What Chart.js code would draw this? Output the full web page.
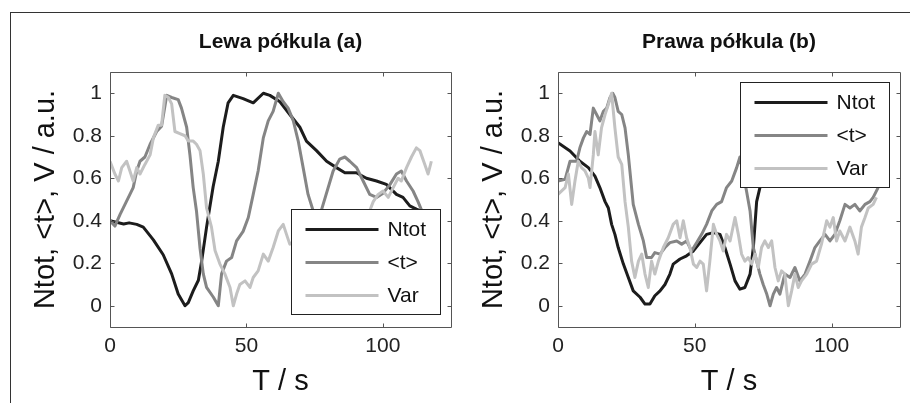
<!DOCTYPE html>
<html><head><meta charset="utf-8">
<script src="https://cdn.jsdelivr.net/npm/chart.js@4.4.1/dist/chart.umd.min.js"></script>
<style>
html,body{margin:0;padding:0;background:#fff;}
body{width:910px;height:403px;position:relative;overflow:hidden;}
#frameTop{position:absolute;left:10px;top:12px;width:900px;height:0;border-top:1px solid #333;}
#frameLeft{position:absolute;left:10px;top:12px;width:0;height:391px;border-left:1px solid #333;}
#c1{position:absolute;left:0;top:0;}
#c2{position:absolute;left:448px;top:0;}
</style></head>
<body>
<div id="frameTop"></div><div id="frameLeft"></div>
<canvas id="c1" width="455" height="403"></canvas>
<canvas id="c2" width="462" height="403"></canvas>
<script>
// ---- labels / ticks ----
const seriesNames = ['Ntot', '<t>', 'Var'];
const panelTitles = ['Lewa półkula (a)', 'Prawa półkula (b)'];
const xTickValues = [0, 50, 100];
const yTickValues = [0, 0.2, 0.4, 0.6, 0.8, 1];
const yAxisTitle = 'Ntot, <t>, V / a.u.';
const xAxisTitle = 'T / s';

// ---- left hemisphere (a) ----
const leftNtotT = [0,5,7,9.8,12.2,15.9,19.5,22.6,25.0,27.5,28.7,30.5,32.4,33.6,35.4,37.8,39.7,41.5,43.3,45.2,48.8,52.5,56.2,58.6,62.3,65.9,69.6,72.0,75.7,79.4,83.0,86.1,90.3,94.0,97.7,101.3,105.0,107.4,109.9,112.3,115,118];
const leftNtotV = [0.40,0.385,0.39,0.383,0.37,0.31,0.24,0.15,0.055,0.0,0.015,0.07,0.12,0.21,0.37,0.56,0.68,0.84,0.955,0.99,0.975,0.955,1.0,0.99,0.96,0.90,0.84,0.775,0.73,0.68,0.65,0.626,0.626,0.60,0.587,0.571,0.524,0.51,0.47,0.455,0.44,0.42];

const leftTauT = [0,1.8,3.7,5.5,7.3,8.5,9.8,11.0,12.8,14.7,17.1,18.9,20.8,22.6,25.0,26.2,28.1,29.3,30.5,31.7,33.0,34.2,35.4,37.9,39.7,40.9,42.7,44.6,46.4,48.8,50.7,52.5,54.3,56.2,58.0,59.8,61.7,63.5,65.3,67.2,69.0,70.8,72.6,74.5,75.5,76.5,77.5,81.8,84.2,86.1,87.9,90.4,92.8,95.2,97.7,100.1,102.6,105.0,106.8,108.7,111.1,112.9,114.2,118];
const leftTauV = [0.40,0.375,0.43,0.477,0.524,0.556,0.634,0.68,0.70,0.76,0.82,0.845,0.99,0.98,0.97,0.93,0.84,0.71,0.556,0.446,0.27,0.15,0.086,0.04,0.0,0.15,0.21,0.227,0.305,0.35,0.415,0.524,0.634,0.79,0.87,0.915,1.0,0.96,0.93,0.87,0.775,0.65,0.524,0.446,0.25,0.30,0.45,0.634,0.69,0.70,0.68,0.65,0.587,0.524,0.51,0.53,0.57,0.62,0.634,0.587,0.54,0.49,0.45,0.38];

const leftVarT = [0,1.8,3.1,4.3,6.1,7.3,8.5,9.8,11.0,12.8,14.7,15.9,17.7,18.9,20.1,21.4,22.6,23.8,25.6,27.5,28.7,30.5,31.7,33.0,34.2,35.4,37.2,38.5,40.3,42.1,44.0,45.2,46.4,47.6,49.5,51.3,52.5,54.3,56.2,58.0,59.8,61.7,63.5,64.7,65.9,70,75,80,85,90,95,96.5,98.3,100.1,102.0,103.8,105.6,106.8,108.7,110.5,112.3,113.6,115.4,116.6,117.8];
const leftVarV = [0.68,0.62,0.587,0.65,0.68,0.634,0.587,0.65,0.62,0.665,0.71,0.79,0.85,0.85,0.99,0.98,0.95,0.82,0.81,0.80,0.775,0.775,0.76,0.73,0.62,0.46,0.37,0.26,0.196,0.15,0.086,0.0,0.055,0.10,0.117,0.086,0.133,0.164,0.243,0.21,0.274,0.352,0.383,0.336,0.29,0.32,0.36,0.40,0.37,0.42,0.44,0.49,0.524,0.54,0.51,0.556,0.60,0.587,0.65,0.70,0.743,0.73,0.665,0.62,0.68];

// ---- right hemisphere (b) ----
const rightNtotT = [0,4.4,8.0,11.1,13.5,15.3,17.2,18.4,19.6,20.8,22.0,23.9,25.7,27.5,30.0,31.8,33.6,35.4,37.3,39.1,40.9,42.1,44.6,47.0,49.5,51.9,54.3,56.8,59.2,61.0,62.9,64.7,66.5,68.3,70.2,71.4,72.6,73.8,76,80,85,90,95,100,105,110,115,118];
const rightNtotV = [0.767,0.728,0.68,0.65,0.61,0.556,0.49,0.46,0.383,0.336,0.274,0.196,0.133,0.07,0.04,0.008,0.008,0.047,0.07,0.10,0.149,0.196,0.22,0.235,0.258,0.297,0.336,0.344,0.336,0.274,0.196,0.117,0.078,0.086,0.149,0.274,0.49,0.556,0.65,0.72,0.78,0.82,0.85,0.88,0.90,0.92,0.93,0.94];

const rightTauT = [0,2.6,4.4,6.8,8.0,9.3,10.5,11.7,12.9,14.1,15.3,16.6,17.8,19.0,20.0,20.8,22.0,23.3,24.5,25.7,27.5,29.4,31.2,32.4,34.2,35.4,37.3,39.1,40.9,43.4,45.2,47.0,48.8,50.7,52.5,54.3,56.2,58.0,59.8,61.6,63.5,65.3,66.5,67.7,68.9,70.2,71.4,72.6,73.8,75.0,76.3,77.5,78.7,79.9,81.1,82.9,84.8,86.6,88.4,90.3,92.1,93.9,95.7,97.6,99.4,101.2,103.0,104.9,106.7,108.5,110.3,112.2,114.0,115.2,117.0];
const rightTauV = [0.587,0.595,0.68,0.68,0.743,0.79,0.82,0.806,0.93,0.90,0.87,0.915,0.93,0.98,1.0,0.98,0.915,0.90,0.837,0.71,0.477,0.383,0.305,0.227,0.227,0.25,0.243,0.274,0.297,0.305,0.29,0.305,0.258,0.297,0.336,0.383,0.446,0.477,0.49,0.556,0.587,0.65,0.70,0.62,0.54,0.446,0.274,0.21,0.149,0.10,0.055,0.0,0.055,0.086,0.055,0.149,0.133,0.18,0.117,0.149,0.21,0.274,0.305,0.336,0.305,0.336,0.40,0.477,0.46,0.477,0.446,0.477,0.49,0.51,0.556];

const rightVarT = [0,2.6,3.8,5.0,6.2,7.4,8.6,9.9,11.1,11.7,12.9,13.5,14.7,15.9,17.2,18.4,19.6,20.8,22.0,23.3,24.5,25.7,26.9,28.1,29.4,30.6,31.8,33.0,34.2,35.4,36.7,38.5,40.3,42.1,43.4,44.6,45.8,47.0,48.2,49.5,50.7,51.9,53.1,54.3,55.5,56.8,58.0,59.2,60.4,61.6,62.9,64.7,65.9,67.1,68.3,69.5,70.8,72.0,73.2,74.4,75.6,76.9,78.1,79.3,80.5,81.7,82.9,84.2,85.4,86.6,87.8,89.0,90.9,92.7,94.5,96.3,98.2,99.4,100.6,101.8,103.0,104.9,106.7,108.5,109.7,110.9,112.2,113.4,115.2,116.4];
const rightVarV = [0.524,0.556,0.62,0.477,0.587,0.68,0.65,0.634,0.60,0.556,0.71,0.82,0.71,0.837,0.90,0.947,1.0,0.837,0.70,0.665,0.49,0.37,0.21,0.133,0.21,0.243,0.149,0.086,0.21,0.149,0.21,0.274,0.32,0.383,0.40,0.32,0.40,0.32,0.274,0.196,0.18,0.21,0.196,0.07,0.21,0.383,0.336,0.305,0.258,0.336,0.305,0.415,0.336,0.243,0.21,0.227,0.196,0.243,0.18,0.274,0.305,0.274,0.305,0.18,0.117,0.164,0.149,0.0,0.07,0.149,0.086,0.117,0.149,0.196,0.21,0.29,0.40,0.37,0.415,0.305,0.352,0.305,0.37,0.305,0.243,0.37,0.415,0.46,0.477,0.51];

// ---- styling ----
const seriesColors = ['#1c1c1c', '#858585', '#c2c2c2'];
const FONT = "'Liberation Sans', Arial, Helvetica, sans-serif";
Chart.defaults.font.family = FONT;
Chart.defaults.color = '#222';

function pts(t, v) { return t.map((x, i) => ({x: x, y: v[i]})); }

const boxPlugin = {
  id: 'boxLegend',
  afterDatasetsDraw(chart, args, opts) {
    const ctx = chart.ctx, a = chart.chartArea;
    const xs = chart.scales.x, ys = chart.scales.y;
    ctx.save();
    ctx.strokeStyle = '#555';
    ctx.lineWidth = 1;
    const L = Math.round(a.left) + 0.5, R = Math.round(a.right) + 0.5;
    const T = Math.round(a.top) + 0.5, B = Math.round(a.bottom) + 0.5;
    ctx.beginPath();
    ctx.rect(L, T, R - L, B - T);
    const tl = 4;
    xs.ticks.forEach(t => {
      const p = Math.round(xs.getPixelForValue(t.value)) + 0.5;
      ctx.moveTo(p, B); ctx.lineTo(p, B - tl);
      ctx.moveTo(p, T); ctx.lineTo(p, T + tl);
    });
    ys.ticks.forEach(t => {
      const p = Math.round(ys.getPixelForValue(t.value)) + 0.5;
      ctx.moveTo(L, p); ctx.lineTo(L + tl, p);
      ctx.moveTo(R, p); ctx.lineTo(R - tl, p);
    });
    ctx.stroke();
    // legend box
    const w = 149, h = 105;
    const lx = Math.round(a.right - 11 - w) + 0.5;
    const ly = opts.where === 'top' ? Math.round(a.top + 10) + 0.5 : Math.round(a.bottom - 13 - h) + 0.5;
    ctx.fillStyle = '#fff';
    ctx.fillRect(lx, ly, w, h);
    ctx.strokeStyle = '#222';
    ctx.strokeRect(lx, ly, w, h);
    const rows = [20, 53, 86];
    ctx.font = '21px ' + FONT;
    ctx.textBaseline = 'middle';
    ctx.textAlign = 'left';
    chart.data.datasets.forEach((ds, i) => {
      const yy = ly + rows[i];
      ctx.strokeStyle = ds.borderColor;
      ctx.lineWidth = 3;
      ctx.beginPath();
      ctx.moveTo(lx + 14, yy); ctx.lineTo(lx + 87, yy);
      ctx.stroke();
      ctx.fillStyle = '#111';
      ctx.fillText(ds.label, lx + 96, yy + 1);
    });
    ctx.restore();
  }
};

function makeChart(id, title, series, where, padRight) {
  return new Chart(document.getElementById(id), {
    type: 'line',
    data: {
      datasets: series.map((s, i) => ({
        label: seriesNames[i],
        data: pts(s[0], s[1]),
        borderColor: seriesColors[i],
        backgroundColor: seriesColors[i],
        borderWidth: 3,
        pointRadius: 0,
        tension: 0,
        fill: false,
        borderJoinStyle: 'round',
        order: 3 - i
      }))
    },
    options: {
      responsive: false,
      animation: false,
      events: [],
      devicePixelRatio: 1,
      layout: {padding: {left: 0, right: padRight, top: 0, bottom: 0}},
      plugins: {
        legend: {display: false},
        tooltip: {enabled: false},
        title: {
          display: true, text: title, fullSize: false,
          font: {size: 21, weight: 'bold', family: FONT, lineHeight: 1.2},
          color: '#111',
          padding: {top: 30, bottom: 16.8}
        },
        boxLegend: {where: where}
      },
      scales: {
        x: {
          type: 'linear', min: 0, max: 125,
          afterBuildTicks: s => { s.ticks = xTickValues.map(v => ({value: v})); },
          afterFit: s => { s.height = 76; },
          grid: {display: false, drawTicks: false},
          border: {display: false},
          ticks: {font: {size: 21}, color: '#222', padding: 7, maxRotation: 0, callback: v => String(v)},
          title: {display: true, text: xAxisTitle, font: {size: 29}, color: '#111', padding: {top: 0, bottom: 4}}
        },
        y: {
          type: 'linear', min: -0.1, max: 1.1,
          afterBuildTicks: s => { s.ticks = yTickValues.map(v => ({value: v})); },
          afterFit: s => { s.width = 110; },
          grid: {display: false, drawTicks: false},
          border: {display: false},
          ticks: {font: {size: 21}, color: '#222', padding: 8, callback: v => String(Math.round(v * 10) / 10)},
          title: {display: true, text: yAxisTitle, font: {size: 29}, color: '#111', padding: {top: 29, bottom: 0}}
        }
      }
    },
    plugins: [boxPlugin]
  });
}

makeChart('c1', panelTitles[0], [[leftNtotT, leftNtotV], [leftTauT, leftTauV], [leftVarT, leftVarV]], 'bottom', 4);
makeChart('c2', panelTitles[1], [[rightNtotT, rightNtotV], [rightTauT, rightTauV], [rightVarT, rightVarV]], 'top', 10);
</script>
</body></html>
